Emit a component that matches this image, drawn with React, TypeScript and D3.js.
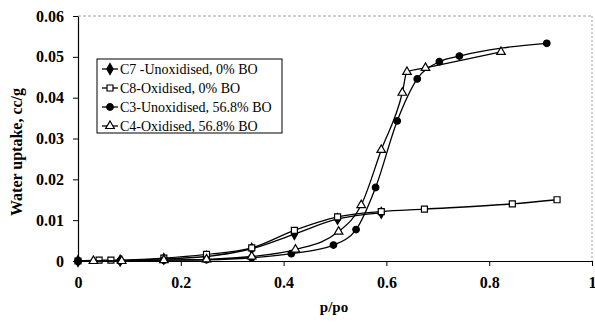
import React, { useEffect, useRef } from 'react';
import * as d3 from 'd3';

// p/po values and water uptake (cc/g)
const c7P = [0, 0.082, 0.167, 0.25, 0.338, 0.421, 0.505, 0.59];
const c7V = [0, 0.0001, 0.0005, 0.0011, 0.003, 0.0066, 0.0103, 0.0118];

const c8P = [0, 0.041, 0.064, 0.167, 0.25, 0.338, 0.421, 0.505, 0.59, 0.674, 0.845, 0.932];
const c8V = [0, 0.0002, 0.0002, 0.0007, 0.0016, 0.0032, 0.0075, 0.0108, 0.0121, 0.0127, 0.014, 0.015];

const c3P = [0, 0.082, 0.167, 0.25, 0.338, 0.415, 0.497, 0.541, 0.579, 0.621, 0.66, 0.703, 0.742, 0.912];
const c3V = [0, 0, 0.0002, 0.0003, 0.0008, 0.0018, 0.0039, 0.0077, 0.018, 0.0343, 0.0446, 0.0488, 0.0502, 0.0533];

const c4P = [0.03, 0.085, 0.167, 0.25, 0.338, 0.423, 0.507, 0.551, 0.59, 0.631, 0.64, 0.676, 0.823];
const c4V = [0, 0, 0.0002, 0.0004, 0.0011, 0.0028, 0.0072, 0.0137, 0.0272, 0.0412, 0.0463, 0.0473, 0.0512];

const seriesNames = [
  'C7 -Unoxidised, 0% BO',
  'C8-Oxidised, 0% BO',
  'C3-Unoxidised, 56.8% BO',
  'C4-Oxidised, 56.8% BO',
];

const xTicks = [0, 0.2, 0.4, 0.6, 0.8, 1];
const yTicks = [0, 0.01, 0.02, 0.03, 0.04, 0.05, 0.06];

const App = () => {
  const svgRef = useRef<SVGSVGElement>(null);

  useEffect(() => {
    const svg = d3.select(svgRef.current);
    svg.selectAll('*').remove();

    const left = 78, right = 592, top = 16, bottom = 261;
    const font = 'Liberation Serif';

    const x = d3.scaleLinear().domain([0, 1]).range([left, right]);
    const y = d3.scaleLinear().domain([0, 0.06]).range([bottom, top]);

    // top and right frame, faint dashed like the scan
    svg.append('line').attr('x1', left).attr('x2', right).attr('y1', top).attr('y2', top)
      .attr('stroke', '#888').attr('stroke-dasharray', '3,2').attr('stroke-width', 0.8);
    svg.append('line').attr('x1', right).attr('x2', right).attr('y1', top).attr('y2', bottom)
      .attr('stroke', '#888').attr('stroke-dasharray', '2,2').attr('stroke-width', 0.8);

    const xAxis = svg.append('g')
      .attr('transform', `translate(0, ${bottom})`)
      .call(d3.axisBottom(x).tickValues(xTicks).tickSize(5).tickSizeOuter(0)
        .tickFormat(d => d3.format('')(+d)));
    xAxis.selectAll('text')
      .attr('dy', null).attr('y', 27)
      .attr('font-family', font).attr('font-size', 16).attr('font-weight', 'bold').attr('fill', '#000');

    const yAxis = svg.append('g')
      .attr('transform', `translate(${left}, 0)`)
      .call(d3.axisLeft(y).tickValues(yTicks).tickSize(5).tickSizeOuter(0)
        .tickFormat(d => (+d === 0 ? '0' : d3.format('.2f')(+d))));
    yAxis.selectAll('text')
      .attr('x', -14)
      .attr('font-family', font).attr('font-size', 16).attr('font-weight', 'bold').attr('fill', '#000');
    svg.selectAll('g').attr('font-family', font);
    svg.selectAll('.domain').attr('stroke', '#000').attr('stroke-width', 1.2);
    svg.selectAll('.tick line').attr('stroke', '#000');

    // axis titles
    svg.append('text')
      .attr('x', 334).attr('y', 312)
      .attr('text-anchor', 'middle')
      .attr('font-family', font).attr('font-size', 15).attr('font-weight', 'bold')
      .text('p/po');
    svg.append('text')
      .attr('transform', 'translate(22, 152) rotate(-90)')
      .attr('text-anchor', 'middle')
      .attr('font-family', font).attr('font-size', 16).attr('font-weight', 'bold')
      .text('Water uptake, cc/g');

    const series = [
      { name: seriesNames[0], p: c7P, v: c7V, sym: d3.symbolDiamond, size: 34, fill: '#000' },
      { name: seriesNames[1], p: c8P, v: c8V, sym: d3.symbolSquare, size: 36, fill: '#fff' },
      { name: seriesNames[2], p: c3P, v: c3V, sym: d3.symbolCircle, size: 34, fill: '#000' },
      { name: seriesNames[3], p: c4P, v: c4V, sym: d3.symbolTriangle, size: 32, fill: '#fff' },
    ];

    const line = d3.line<[number, number]>()
      .x(d => x(d[0]))
      .y(d => y(d[1]))
      .curve(d3.curveMonotoneX);

    series.forEach(s => {
      const pts: [number, number][] = s.p.map((p, i) => [p, s.v[i]]);
      svg.append('path')
        .attr('d', line(pts))
        .attr('fill', 'none')
        .attr('stroke', '#000')
        .attr('stroke-width', 1.3);
      svg.append('g').selectAll('path')
        .data(pts)
        .enter().append('path')
        .attr('d', d3.symbol().type(s.sym).size(s.size)())
        .attr('transform', d => `translate(${x(d[0])}, ${y(d[1])})`)
        .attr('fill', s.fill)
        .attr('stroke', '#000')
        .attr('stroke-width', 1.2);
    });

    // legend
    const lg = svg.append('g').attr('transform', 'translate(97, 59)');
    lg.append('rect').attr('width', 185).attr('height', 74)
      .attr('fill', '#fff').attr('stroke', '#000').attr('stroke-width', 1);
    series.forEach((s, i) => {
      const cy = 10 + i * 19;
      lg.append('line').attr('x1', 5).attr('x2', 21).attr('y1', cy).attr('y2', cy)
        .attr('stroke', '#000').attr('stroke-width', 1.3);
      lg.append('path')
        .attr('d', d3.symbol().type(s.sym).size(s.size)())
        .attr('transform', `translate(13, ${cy})`)
        .attr('fill', s.fill).attr('stroke', '#000').attr('stroke-width', 1.2);
      lg.append('text')
        .attr('x', 23).attr('y', cy + 4.5)
        .attr('font-family', font).attr('font-size', 14)
        .text(s.name);
    });
  }, []);

  return (
    <svg ref={svgRef} width={595} height={324}
      style={{ position: 'absolute', left: 0, top: 0, background: '#fff' }} />
  );
};

export default App;
